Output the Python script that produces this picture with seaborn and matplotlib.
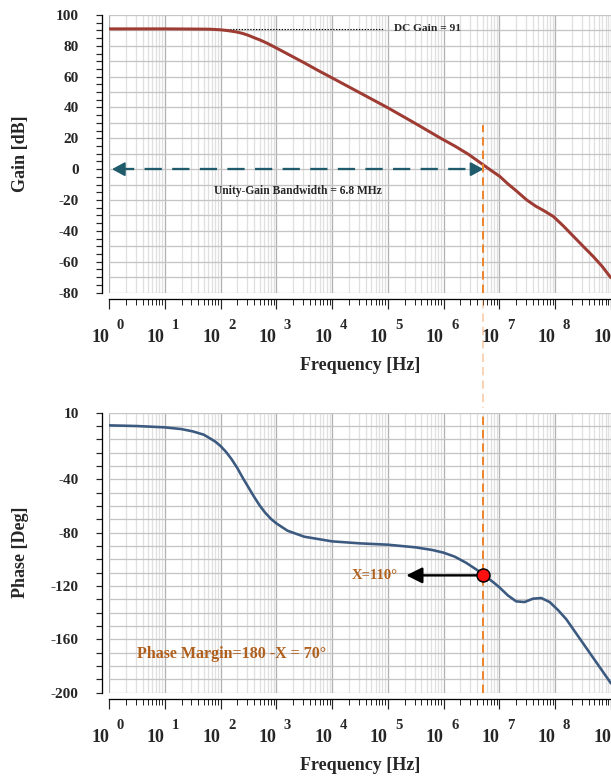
import numpy as np
import matplotlib
matplotlib.use("Agg")
import matplotlib.pyplot as plt
import seaborn as sns
from matplotlib import transforms
from matplotlib.lines import Line2D
from matplotlib.ticker import LogLocator, NullFormatter

# ---------------- data ----------------
gain_logf = [0.0, 0.5, 1.0, 1.5, 1.8, 2.0, 2.1, 2.2, 2.3, 2.4, 2.5, 2.6, 2.7, 2.8,
             2.9, 3.0, 3.25, 3.5, 3.75, 4.0, 4.5, 5.0, 5.5, 5.94, 6.2, 6.45, 6.71,
             6.85, 7.01, 7.15, 7.3, 7.49, 7.65, 7.8, 7.97, 8.15, 8.33, 8.5, 8.68,
             8.84, 8.98, 9.0]
gain_db = [91, 91, 91, 90.9, 90.8, 90.4, 90.0, 89.5, 88.9, 88, 86.8, 85.3, 83.9,
           82.3, 80.5, 78.6, 73.8, 69, 64, 59.2, 49.5, 39.8, 29.5, 20.2, 15, 9.5,
           2.8, -0.8, -4.8, -9.5, -14, -20, -24, -27, -30.8, -37, -43.7, -50,
           -56.6, -63, -69.6, -70.4]

phase_logf = [0.0, 0.5, 1.0, 1.3, 1.5, 1.7, 1.9, 2.0, 2.1, 2.2, 2.3, 2.4, 2.5, 2.6,
              2.7, 2.8, 2.9, 3.0, 3.2, 3.5, 4.0, 4.5, 5.0, 5.5, 5.8, 6.0, 6.2, 6.4,
              6.6, 6.73, 6.9, 7.0, 7.15, 7.3, 7.45, 7.6, 7.75, 7.9, 8.05, 8.2, 8.4,
              8.6, 8.8, 9.0]
phase_deg = [0.5, 0, -1, -2.3, -4, -6.5, -11.5, -15, -19.5, -25, -31.5, -39, -46,
             -53, -59.5, -65, -69.5, -73, -78.5, -83, -86.5, -88, -89, -91, -93,
             -95, -98, -102.5, -108, -112, -117.5, -121, -127, -131.5, -132,
             -129.5, -129, -132, -138, -145, -157, -169, -181, -193]

decades = [0, 1, 2, 3, 4, 5, 6, 7, 8, 9]
gain_yticks = [100, 80, 60, 40, 20, 0, -20, -40, -60, -80]
phase_yticks = [10, -40, -80, -120, -160, -200]

dc_gain = 91
dc_label = "DC Gain = 91"
ugb_hz = 5.17e6            # where the unity-gain marker is drawn
ugb_label = "Unity-Gain Bandwidth = 6.8 MHz"
phase_at_ugb = -112
x_label = "X=110°"
pm_label = "Phase Margin=180 -X = 70°"

gain_freq = [10 ** v for v in gain_logf]
phase_freq = [10 ** v for v in phase_logf]

# ---------------- style ----------------
sns.set_style("white")
plt.rcParams['font.family'] = ['Liberation Serif', 'DejaVu Serif']
plt.rcParams['font.weight'] = 'bold'
plt.rcParams['axes.labelweight'] = 'bold'

W, H = 611, 778
fig = plt.figure(figsize=(W / 100, H / 100), dpi=100)


def rect(l, t, r, b):
    return [l / W, 1 - b / H, (r - l) / W, (b - t) / H]


ax1 = fig.add_axes(rect(109, 15, 611, 292.5))
ax2 = fig.add_axes(rect(109, 412.7, 611, 692.7))

PX = 0.72  # points per pixel
GAIN_C = '#9E3B33'
PHASE_C = '#3C5A80'
ORANGE = '#EE8630'
TEAL = '#1F5B6B'
BROWN = '#B0601C'


def style(ax, ylim, yticks, yminor, hgrid):
    ax.set_xscale('log')
    ax.set_xlim(1, 1e9)
    ax.set_ylim(*ylim)
    for s in ['top', 'right']:
        ax.spines[s].set_visible(False)
    for s in ['left', 'bottom']:
        ax.spines[s].set_color('black')
        ax.spines[s].set_linewidth(1.3 * PX)
    ax.spines['left'].set_position(('outward', 7.3 * PX))
    ax.spines['bottom'].set_position(('outward', 6.5 * PX))
    ax.xaxis.set_minor_locator(LogLocator(base=10, subs=np.arange(2, 10), numticks=100))
    ax.xaxis.set_minor_formatter(NullFormatter())
    ax.set_yticks(yminor, minor=True)
    ax.tick_params(axis='y', which='both', direction='out', length=6 * PX,
                   width=1.2 * PX, labelsize=11, pad=17 * PX, left=True)
    ax.tick_params(axis='x', which='major', direction='out', length=10 * PX,
                   width=1.2 * PX, labelsize=13, pad=33 * PX, bottom=True)
    ax.tick_params(axis='x', which='minor', direction='out', length=5.5 * PX,
                   width=1.0 * PX, bottom=True)
    ax.set_yticks(yticks, [str(v) for v in yticks])
    ax.set_xticks([10 ** k for k in decades], ["10"] * len(decades),
                  ha='right', va='baseline')
    ax.grid(False)
    for k in decades:
        ax.axvline(10 ** k, color='#b2b2b2', lw=1.0 * PX * 1.3, zorder=0)
        if k < 9:
            for m in range(2, 10):
                ax.axvline(m * 10 ** k, color='#e0e0e0', lw=1.0 * PX * 1.3, zorder=0)
    for v in hgrid:
        ax.axhline(v, color='#c4c4c4', lw=1.3 * PX, zorder=0)
    for k in decades:
        ax.annotate(str(k), xy=(10 ** k, 0), xycoords=('data', 'axes fraction'),
                    xytext=(7.5, -36.5), textcoords='offset pixels',
                    ha='left', va='baseline', fontsize=10.5, fontweight='bold',
                    annotation_clip=False)
    ax.set_xlabel("Frequency [Hz]", fontsize=13, fontweight='bold')


style(ax1, (-80, 100), gain_yticks, list(range(-80, 101, 5)), list(range(-80, 101, 10)))
style(ax2, (-200, 10), phase_yticks, list(range(-200, 11, 10)), list(range(-200, 11, 10)))

ax1.xaxis.set_label_coords(0.5, -(365 - 292.5) / 277.5)
ax2.xaxis.set_label_coords(0.5, -(765 - 692.7) / 280.0)
ax1.xaxis.label.set_va('center')
ax2.xaxis.label.set_va('center')
ax1.set_ylabel("Gain [dB]", fontsize=13, fontweight='bold')
ax2.set_ylabel("Phase [Deg]", fontsize=13, fontweight='bold')
ax1.yaxis.set_label_coords((29 - 109) / 502, 0.5)
ax2.yaxis.set_label_coords((29 - 109) / 502, 0.5)

# ---------------- curves ----------------
sns.lineplot(x=gain_freq, y=gain_db, ax=ax1, color=GAIN_C, linewidth=3.0 * PX,
             estimator=None, sort=False, zorder=3)
sns.lineplot(x=phase_freq, y=phase_deg, ax=ax2, color=PHASE_C, linewidth=2.6 * PX,
             estimator=None, sort=False, zorder=3)

# ---------------- gain annotations ----------------
ax1.plot([10 ** 2.07, 10 ** 4.93], [dc_gain, dc_gain], color='black',
         lw=1.1 * PX, ls=(0, (1.2, 1.4)), zorder=2)
ax1.text(10 ** 5.11, dc_gain, dc_label, fontsize=8.2, fontweight='bold',
         ha='left', va='center')

ax1.plot([1.4, ugb_hz / 1.25], [0, 0], color=TEAL, lw=2.3 * PX,
         ls=(0, (7.5, 4.5)), zorder=4)
for tip, tail in [(1.13, 1.6), (ugb_hz, ugb_hz / 1.5)]:
    ax1.annotate('', xy=(tip, 0), xytext=(tail, 0),
                 arrowprops=dict(arrowstyle='-|>,head_length=0.55,head_width=0.3',
                                 color=TEAL, lw=2.0 * PX, shrinkA=0, shrinkB=0,
                                 mutation_scale=14), zorder=4)
ax1.text(10 ** 3.39, -14, ugb_label, fontsize=8.3, fontweight='bold',
         ha='center', va='center')

ax1.axvline(ugb_hz, ymin=0, ymax=(28.7 + 80) / 180, color=ORANGE, lw=2.0 * PX,
            ls=(0, (4.2, 2.5)), zorder=5)
ax2.axvline(ugb_hz, ymin=0, ymax=1, color=ORANGE, lw=2.0 * PX,
            ls=(0, (4.2, 2.5)), zorder=2)
tr = transforms.blended_transform_factory(ax2.transData, fig.transFigure)
fig.add_artist(Line2D([ugb_hz, ugb_hz], [1 - 300 / H, 1 - 408 / H], transform=tr,
                      color=ORANGE, alpha=0.35, lw=2.0 * PX, ls=(0, (4.2, 2.5))))

# ---------------- phase annotations ----------------
ax2.annotate('', xy=(10 ** 5.33, phase_at_ugb), xytext=(ugb_hz, phase_at_ugb),
             arrowprops=dict(arrowstyle='-|>,head_length=0.6,head_width=0.3',
                             color='black', lw=2.4 * PX, shrinkA=5, shrinkB=0,
                             mutation_scale=16), zorder=6)
ax2.plot([ugb_hz], [phase_at_ugb], marker='o', markersize=13 * PX,
         markerfacecolor='#FF1010', markeredgecolor='black',
         markeredgewidth=1.5 * PX, zorder=7)
ax2.text(10 ** 5.185, phase_at_ugb, x_label, fontsize=10.5, fontweight='bold',
         color=BROWN, ha='right', va='center')
ax2.text(10 ** 0.5, -171, pm_label, fontsize=11.5, fontweight='bold',
         color=BROWN, ha='left', va='center')

fig.savefig("out.png", dpi=100)
